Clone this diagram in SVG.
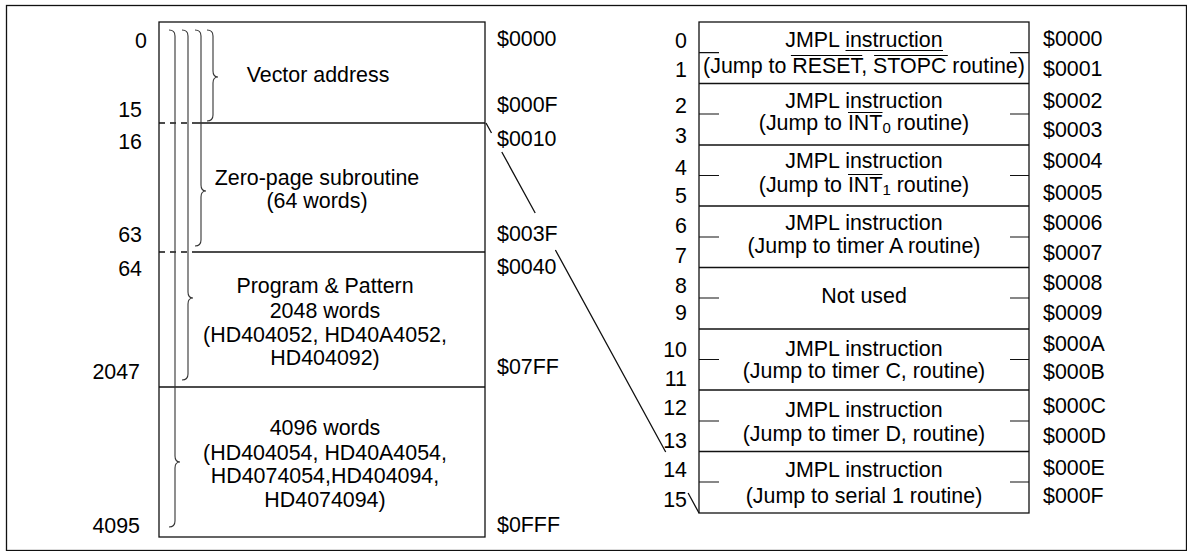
<svg xmlns="http://www.w3.org/2000/svg" width="1187" height="551" viewBox="0 0 1187 551">
<style>
text{font-family:"Liberation Sans",Arial,sans-serif;font-size:21.4px;fill:#000}
.m{text-anchor:middle}
.e{text-anchor:end}
.ln{stroke:#111;stroke-width:1.3;fill:none}
.br{stroke:#333;stroke-width:1.1;fill:none}
.tk{stroke:#111;stroke-width:1.2}
.bar{stroke:#000;stroke-width:1.2}
</style>
<rect x="6.5" y="5.5" width="1180" height="545" fill="#fff" stroke="#111" stroke-width="1.3"/>

<g id="memory-map">
  <rect x="159" y="22" width="326" height="515" class="ln"/>
  <line x1="159" y1="123" x2="192" y2="123" class="ln" stroke-dasharray="6 5"/>
  <line x1="192" y1="123" x2="485" y2="123" class="ln"/>
  <line x1="159" y1="252" x2="192" y2="252" class="ln" stroke-dasharray="6 5"/>
  <line x1="192" y1="252" x2="485" y2="252" class="ln"/>
  <line x1="159" y1="387" x2="485" y2="387" class="ln"/>
</g>

<g id="braces">
  <path class="br" d="M169,30 Q175,30 175,36 L175,456 Q175,462 180,462 Q175,462 175,468 L175,521 Q175,527 169,527"/>
  <path class="br" d="M182,30 Q188,30 188,36 L188,292 Q188,298 193,298 Q188,298 188,304 L188,374 Q188,380 182,380"/>
  <path class="br" d="M195,30 Q201,30 201,36 L201,185 Q201,191 206,191 Q201,191 201,197 L201,240 Q201,246 195,246"/>
  <path class="br" d="M207,30 Q213,30 213,36 L213,71 Q213,77 218,77 Q213,77 213,83 L213,115 Q213,121 207,121"/>
</g>

<g id="vector-address"><text class="m" x="318" y="82">Vector address</text></g>
<g id="zero-page">
  <text class="m" x="317" y="185">Zero-page subroutine</text>
  <text class="m" x="317" y="208">(64 words)</text>
</g>
<g id="program-pattern">
  <text class="m" x="325" y="293">Program &amp; Pattern</text>
  <text class="m" x="325" y="318">2048 words</text>
  <text class="m" x="325" y="342">(HD404052, HD40A4052,</text>
  <text class="m" x="325" y="365">HD404092)</text>
</g>
<g id="words-4096">
  <text class="m" x="325" y="435">4096 words</text>
  <text class="m" x="325" y="460">(HD404054, HD40A4054,</text>
  <text class="m" x="325" y="483">HD4074054,HD404094,</text>
  <text class="m" x="325" y="507">HD4074094)</text>
</g>

<g id="decimal-addresses">
  <text class="e" x="147" y="48">0</text>
  <text class="e" x="142" y="117">15</text>
  <text class="e" x="142" y="149">16</text>
  <text class="e" x="142" y="242">63</text>
  <text class="e" x="142" y="276">64</text>
  <text class="e" x="140" y="379">2047</text>
  <text class="e" x="140" y="533">4095</text>
</g>

<g id="hex-addresses">
  <text x="497" y="46">$0000</text>
  <text x="497" y="112">$000F</text>
  <text x="497" y="146">$0010</text>
  <text x="497" y="241">$003F</text>
  <text x="497" y="274">$0040</text>
  <text x="497" y="374">$07FF</text>
  <text x="497" y="532">$0FFF</text>
</g>

<g id="connectors">
  <path class="ln" stroke-width="1" d="M486,123 L491.5,133 M501.8,152 L535.2,213 M555.4,250 L665.7,452 M688.1,493 L699,513"/>
</g>

<g id="vector-table">
  <rect x="699" y="22" width="330" height="491" class="ln"/>
  <line x1="699" y1="83.5" x2="1029" y2="83.5" class="ln"/>
  <line x1="699" y1="145" x2="1029" y2="145" class="ln"/>
  <line x1="699" y1="206" x2="1029" y2="206" class="ln"/>
  <line x1="699" y1="267.5" x2="1029" y2="267.5" class="ln"/>
  <line x1="699" y1="329" x2="1029" y2="329" class="ln"/>
  <line x1="699" y1="390" x2="1029" y2="390" class="ln"/>
  <line x1="699" y1="451.5" x2="1029" y2="451.5" class="ln"/>
  <g id="ticks">
    <path class="tk" d="M699,52.7H719M1010,52.7H1029M699,114H719M1010,114H1029M699,175.5H719M1010,175.5H1029M699,237H719M1010,237H1029M699,298H719M1010,298H1029M699,359.5H719M1010,359.5H1029M699,421H719M1010,421H1029M699,482H719M1010,482H1029"/>
  </g>
</g>

<g id="row-0"><text class="m" x="864" y="47">JMPL instruction</text>
  <text class="m" x="864" y="73">(Jump to RESET, STOPC routine)</text>
  <path class="bar" d="M845.5,50.5H943M790.9,55.5H862.2M874.1,55.5H947.8"/></g>
<g id="row-1"><text class="m" x="864" y="108">JMPL instruction</text>
  <text class="m" x="864" y="130">(Jump to INT<tspan font-size="15" dy="3">0</tspan><tspan dy="-3"> routine)</tspan></text>
  <path class="bar" d="M848,112.5H882.5"/></g>
<g id="row-2"><text class="m" x="864" y="168">JMPL instruction</text>
  <text class="m" x="864" y="192">(Jump to INT<tspan font-size="15" dy="3">1</tspan><tspan dy="-3"> routine)</tspan></text>
  <path class="bar" d="M848,174.5H882.5"/></g>
<g id="row-3"><text class="m" x="864" y="230">JMPL instruction</text>
  <text class="m" x="864" y="253">(Jump to timer A routine)</text></g>
<g id="row-4"><text class="m" x="864" y="303">Not used</text></g>
<g id="row-5"><text class="m" x="864" y="356">JMPL instruction</text>
  <text class="m" x="864" y="378">(Jump to timer C, routine)</text></g>
<g id="row-6"><text class="m" x="864" y="417">JMPL instruction</text>
  <text class="m" x="864" y="441">(Jump to timer D, routine)</text></g>
<g id="row-7"><text class="m" x="864" y="477">JMPL instruction</text>
  <text class="m" x="864" y="503">(Jump to serial 1 routine)</text></g>

<g id="row-numbers">
  <text class="e" x="687" y="48">0</text>
  <text class="e" x="687" y="77">1</text>
  <text class="e" x="687" y="113">2</text>
  <text class="e" x="687" y="143">3</text>
  <text class="e" x="687" y="175">4</text>
  <text class="e" x="687" y="203">5</text>
  <text class="e" x="687" y="233">6</text>
  <text class="e" x="687" y="263">7</text>
  <text class="e" x="687" y="293">8</text>
  <text class="e" x="687" y="320">9</text>
  <text class="e" x="687" y="357">10</text>
  <text class="e" x="687" y="386">11</text>
  <text class="e" x="687" y="415">12</text>
  <text class="e" x="687" y="448">13</text>
  <text class="e" x="687" y="477">14</text>
  <text class="e" x="687" y="507">15</text>
</g>

<g id="row-addresses">
  <text x="1043" y="46">$0000</text>
  <text x="1043" y="76">$0001</text>
  <text x="1043" y="108">$0002</text>
  <text x="1043" y="137">$0003</text>
  <text x="1043" y="168">$0004</text>
  <text x="1043" y="200">$0005</text>
  <text x="1043" y="230">$0006</text>
  <text x="1043" y="260">$0007</text>
  <text x="1043" y="290">$0008</text>
  <text x="1043" y="320">$0009</text>
  <text x="1043" y="351">$000A</text>
  <text x="1043" y="379">$000B</text>
  <text x="1043" y="413">$000C</text>
  <text x="1043" y="443">$000D</text>
  <text x="1043" y="475">$000E</text>
  <text x="1043" y="503">$000F</text>
</g>
</svg>
